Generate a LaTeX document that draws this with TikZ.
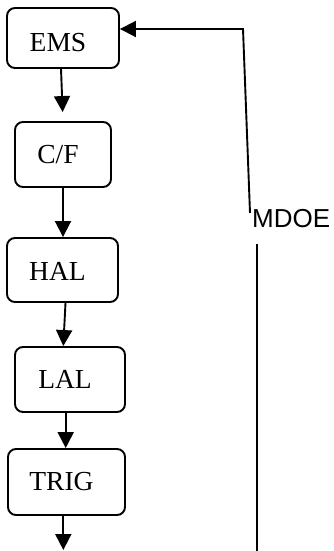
\documentclass[tikz,border=0pt]{standalone}
\usepackage{fontspec}
\setmainfont{Liberation Serif}
\newfontfamily\arialf{Liberation Sans}
\usetikzlibrary{arrows.meta}
\begin{document}
\begin{tikzpicture}[x=1pt,y=-1pt,
  box/.style={draw,line width=1.9pt,rounded corners=8pt,inner sep=0pt,
    font=\fontsize{27.5}{32}\selectfont,execute at end node={\hspace*{10pt}}},
  arr/.style={line width=1.9pt,-{Triangle[length=16pt,width=16pt]}},
  ln/.style={line width=1.9pt}]
\useasboundingbox (0,0) rectangle (333,551);
\node[box,minimum width=112pt,minimum height=60pt] (ems) at (63,38) {\raisebox{-4pt}[\height][0pt]{EMS}};
\node[box,minimum width=96pt,minimum height=65pt] (cf) at (63,154.5) {C/F};
\node[box,minimum width=111pt,minimum height=64pt] (hal) at (62.5,270) {\raisebox{-1.5pt}[\height][0pt]{HAL}};
\node[box,minimum width=110pt,minimum height=65pt] (lal) at (70,379.5) {LAL};
\node[box,minimum width=117pt,minimum height=66pt] (trig) at (66.5,482) {TRIG};
\node[font=\arialf\fontsize{26}{30}\selectfont,inner sep=0pt,anchor=west] (mdoe) at (252,219) {MDOE};
\coordinate (end) at (63.3,550);
\coordinate (corner) at (243,29);
\coordinate (a) at (250,213);
\coordinate (b) at (257,244);
\coordinate (bot) at (257,551);
\draw[arr,shorten >=9pt] ([xshift=-2pt]ems.south) -- (cf.north);
\draw[arr] (cf.south) -- ([xshift=0.5pt]hal.north);
\draw[arr] ([xshift=3pt]hal.south) -- ([xshift=-6.7pt]lal.north);
\draw[arr] ([xshift=-4.3pt]lal.south) -- ([xshift=-0.8pt]trig.north);
\draw[arr] ([xshift=-3.2pt]trig.south) -- (end);
\draw[arr] (a) -- (corner) -- ([yshift=9pt]ems.east);
\draw[ln] (b) -- (bot);
\end{tikzpicture}
\end{document}
